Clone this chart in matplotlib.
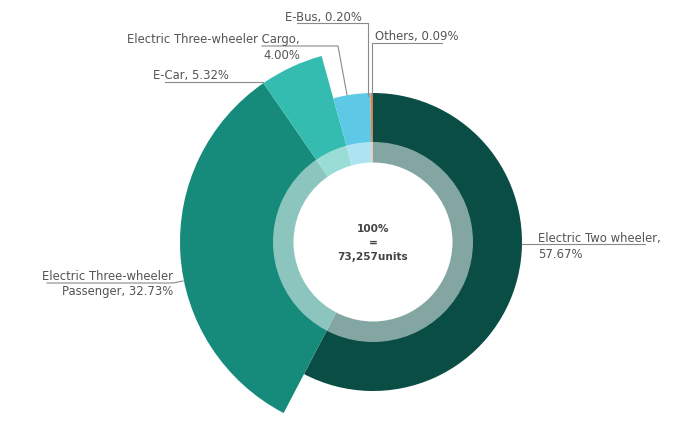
import matplotlib.pyplot as plt
from matplotlib.patches import Wedge, Circle

# data
segments = ['Electric Two wheeler', 'Electric Three-wheeler Passenger', 'E-Car',
            'Electric Three-wheeler Cargo', 'E-Bus', 'Others']
shares = [57.67, 32.73, 5.32, 4.00, 0.20, 0.09]
total_units = '73,257'

label_text = ['Electric Two wheeler,\n57.67%',
              'Electric Three-wheeler\nPassenger, 32.73%',
              'E-Car, 5.32%',
              'Electric Three-wheeler Cargo,\n4.00%',
              'E-Bus, 0.20%',
              'Others, 0.09%']

colors = ['#0a4d45', '#178b7b', '#35bcb0', '#5ec9e6', '#dc8350', '#b8623a']
radii = [149, 193, 193, 149, 149, 149]

W, H = 696, 423
cx, cy = 373, H - 242

fig = plt.figure(figsize=(W / 100, H / 100), dpi=100)
ax = fig.add_axes([0, 0, 1, 1])

wedges, _ = ax.pie(shares, colors=colors, startangle=90, counterclock=False,
                   center=(cx, cy), radius=149, frame=True,
                   wedgeprops=dict(linewidth=0))
for w, r in zip(wedges, radii):
    w.set_radius(r)

# translucent ring and white hole
ax.add_patch(Wedge((cx, cy), 100, 0, 360, width=21, facecolor='white',
                   alpha=0.5, linewidth=0))
ax.add_patch(Circle((cx, cy), 79.5, facecolor='white', linewidth=0))

ax.text(cx, cy - 1, '100%\n=\n' + total_units + 'units', ha='center', va='center',
        fontsize=7.6, fontweight='bold', color='#444444', linespacing=1.5)

# labels: (x, y, ha) in image pixels and leader polylines
label_pos = [(538, 246, 'left'), (173, 284, 'right'), (153, 75, 'left'),
             (300, 47, 'right'), (285, 17, 'left'), (375, 36, 'left')]
leaders = [[(522, 244), (645, 244)],
           [(47, 283), (173, 283), (183, 281)],
           [(165, 82), (263, 82)],
           [(262, 46), (338, 46), (347, 95)],
           [(297, 23), (368, 23), (368, 96)],
           [(442, 43), (372, 43), (372, 96)]]

for txt, (x, y, ha), pts in zip(label_text, label_pos, leaders):
    ax.text(x, H - y, txt, ha=ha, va='center', fontsize=8.4, color='#555555',
            linespacing=1.3, multialignment=ha)
    xs = [p[0] for p in pts]
    ys = [H - p[1] for p in pts]
    ax.plot(xs, ys, color='#8a8a8a', linewidth=0.8)

ax.set_xlim(0, W)
ax.set_ylim(0, H)
ax.set_aspect('equal')
ax.axis('off')

fig.savefig('out.png', dpi=100, facecolor='white')
